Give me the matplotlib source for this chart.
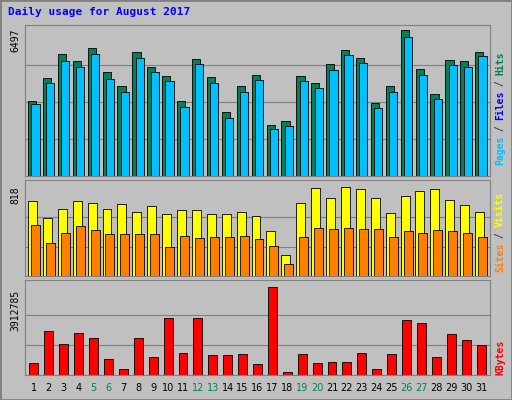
import matplotlib
matplotlib.use("Agg")
import matplotlib.pyplot as plt
import numpy as np

days = list(range(1, 32))
weekend = [5, 6, 12, 13, 19, 20, 26, 27]
max_hits, max_visits, max_kb = 6497, 818, 3912785
hits = [3300, 4300, 5350, 5050, 5600, 4550, 3950, 5450, 4800, 4400, 3300, 5150, 4350,
        2800, 3950, 4450, 2230, 2400, 4400, 4100, 4900, 5550, 5200, 3220, 3950, 6400,
        4700, 3600, 5100, 5050, 5450]
files = [3150, 4100, 5050, 4800, 5350, 4250, 3700, 5200, 4550, 4150, 3050, 4900, 4100,
         2550, 3700, 4200, 2050, 2200, 4150, 3850, 4650, 5300, 4950, 3000, 3700, 6100,
         4450, 3400, 4850, 4800, 5250]
visits = [690, 530, 620, 690, 670, 620, 660, 590, 640, 570, 610, 610, 570,
          570, 590, 550, 410, 190, 670, 810, 720, 820, 800, 720, 580, 740,
          780, 800, 700, 650, 590]
sites = [470, 300, 400, 460, 420, 390, 390, 390, 390, 270, 370, 350, 360,
         360, 370, 340, 280, 110, 360, 440, 430, 440, 430, 430, 360, 410,
         400, 420, 410, 400, 360]
kbytes = [520000, 1920000, 1340000, 1830000, 1620000, 680000, 240000, 1620000, 800000,
          2450000, 950000, 2450000, 870000, 870000, 910000, 470000, 3820000, 150000,
          910000, 520000, 560000, 560000, 950000, 240000, 910000, 2370000, 2250000,
          800000, 1790000, 1500000, 1300000]

bg = "#c0c0c0"
fig = plt.figure(figsize=(5.12, 4.0), dpi=100, facecolor=bg)
W, H = 512, 400

def panel(top, bottom):
    ax = fig.add_axes([25 / W, 1 - bottom / H, 465 / W, (bottom - top) / H])
    ax.set_facecolor(bg)
    ax.set_xlim(0.4, 31.6)
    ax.set_xticks([]); ax.set_yticks([])
    for s in ax.spines.values():
        s.set_color("#808080")
    return ax

x = np.array(days)
ax1 = panel(25, 176)
ax1.set_ylim(0, max_hits * 1.02)
for f in [0.25, 0.5, 0.75]:
    ax1.axhline(max_hits * f, color="#808080", lw=0.8, zorder=0)
ax1.bar(x - 0.12, hits, width=0.55, color="#00805c", edgecolor="black", lw=0.6)
ax1.bar(x + 0.1, files, width=0.55, color="#00c0ff", edgecolor="black", lw=0.6)

ax2 = panel(180, 276)
ax2.set_ylim(0, max_visits * 1.08)
for f in [0.33, 0.66]:
    ax2.axhline(max_visits * f, color="#808080", lw=0.8, zorder=0)
ax2.bar(x - 0.1, visits, width=0.6, color="#ffff00", edgecolor="black", lw=0.6)
ax2.bar(x + 0.1, sites, width=0.6, color="#ff8000", edgecolor="black", lw=0.6)

ax3 = panel(280, 375)
ax3.set_ylim(0, max_kb * 1.05)
for f in [0.33, 0.66]:
    ax3.axhline(max_kb * f, color="#808080", lw=0.8, zorder=0)
ax3.bar(x, kbytes, width=0.6, color="#ff0000", edgecolor="black", lw=0.6)

mono = "DejaVu Sans Mono"
fig.text(8 / W, 1 - 12 / H, "Daily usage for August 2017", color="#0000ff",
         fontsize=8, fontweight="bold", family=mono, va="center")
fig.text(15 / W, 1 - 40 / H, str(max_hits), rotation=90, fontsize=7, family=mono, va="center", ha="center")
fig.text(15 / W, 1 - 195 / H, str(max_visits), rotation=90, fontsize=7, family=mono, va="center", ha="center")
fig.text(15 / W, 1 - 310 / H, str(max_kb), rotation=90, fontsize=7, family=mono, va="center", ha="center")

def side(y, parts):
    yy = y
    for txt, col in parts:
        fig.text(500 / W, 1 - yy / H, txt, rotation=90, fontsize=7, family=mono,
                 color=col, ha="center", va="bottom", fontweight="bold")
        yy -= len(txt) * 5.6
side(165, [("Pages", "#00c0ff"), (" / ", "#404040"), ("Files", "#0000ff"),
           (" / ", "#404040"), ("Hits", "#00805c")])
side(272, [("Sites", "#ff8000"), (" / ", "#404040"), ("Visits", "#ffff00")])
side(375, [("KBytes", "#ff0000")])

for d in days:
    xp = (25 + (d - 0.4) / 31.2 * 465) / W
    fig.text(xp, 1 - 388 / H, str(d), fontsize=7, ha="center", va="center",
             color="#00805c" if d in weekend else "black")

fig.patches.append(plt.Rectangle((0, 0), 1, 1, transform=fig.transFigure, fill=False,
                                 edgecolor="#808080", lw=2))
fig.savefig("out.png", dpi=100, facecolor=bg)
